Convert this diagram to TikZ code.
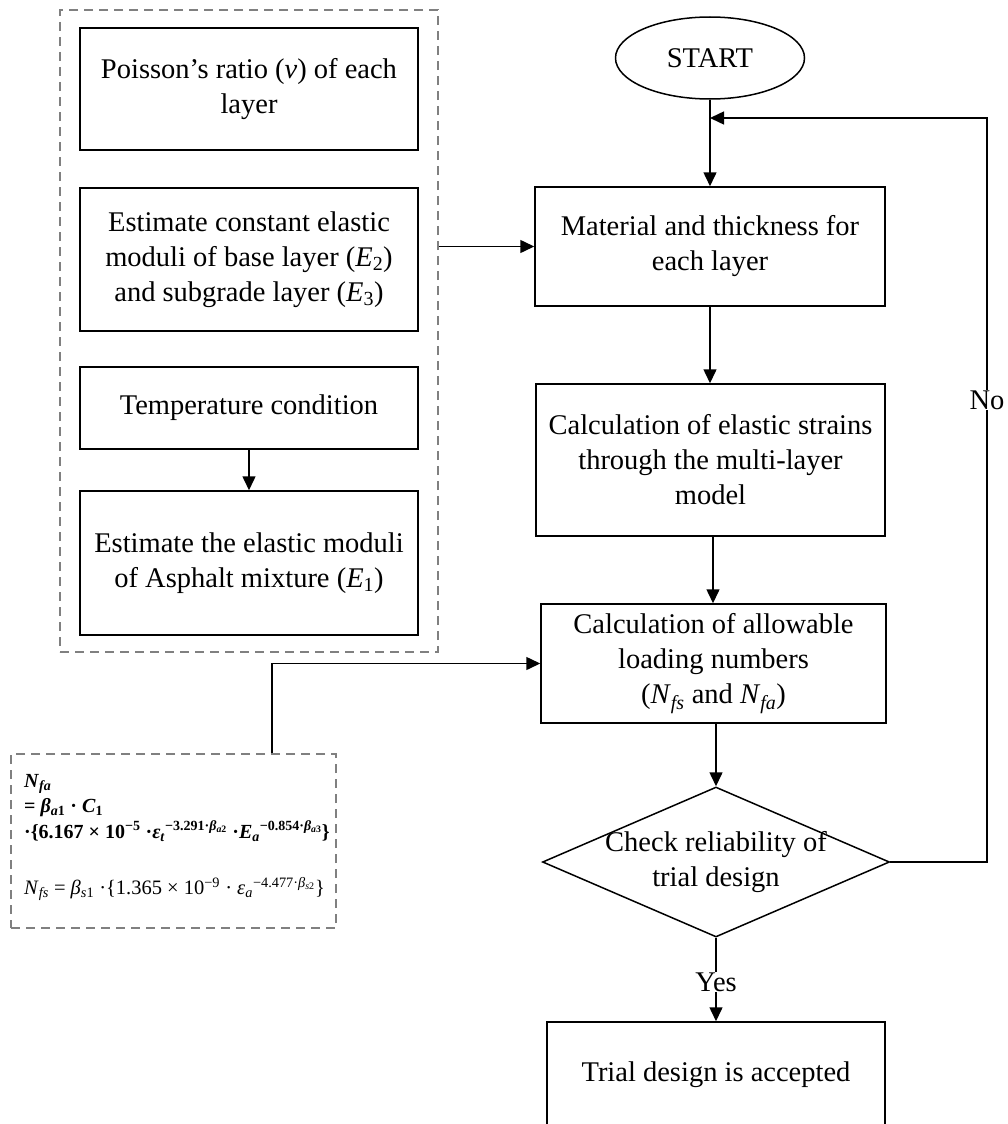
\documentclass[tikz,border=0pt]{standalone}
\usepackage{fontspec}
\setmainfont{Liberation Serif}
\usetikzlibrary{arrows.meta,shapes.geometric,calc}
\begin{document}
\begin{tikzpicture}[x=1pt,y=-1pt,
  txt/.style={font=\fontsize{28.5}{35}\selectfont},
  box/.style={draw,line width=1.5pt,align=center,inner sep=0pt,txt},
  grpbox/.style={draw=black!50,line width=1.4pt,dash pattern=on 9pt off 6pt,inner sep=0pt},
  arr/.style={line width=1.5pt,-{Triangle[length=14pt,width=13pt]}},
  lbl/.style={txt,fill=white,inner sep=1pt}]
\useasboundingbox (0,0) rectangle (1008,1124);
\clip (0,0) rectangle (1008,1124);

% left input group
\node[grpbox,minimum width=378pt,minimum height=642pt] (grp) at (249,331) {};
\node[box,minimum width=338pt,minimum height=122pt] (b1) at (249,89)
  {Poisson’s ratio (\textit{v}) of each\\layer};
\node[box,minimum width=338pt,minimum height=143pt] (b2) at (249,259.5)
  {Estimate constant elastic\\moduli of base layer (\textit{E}\textsubscript{2})\\and subgrade layer (\textit{E}\textsubscript{3})};
\node[box,minimum width=338pt,minimum height=82pt] (b3) at (249,408)
  {Temperature condition};
\node[box,minimum width=338pt,minimum height=144pt] (b4) at (249,563)
  {Estimate the elastic moduli\\of Asphalt mixture (\textit{E}\textsubscript{1})};

% main flow
\node[box,ellipse,minimum width=189pt,minimum height=82pt] (start) at (710,58) {START};
\node[box,minimum width=350pt,minimum height=119pt] (mat) at (710,246.5)
  {Material and thickness for\\each layer};
\node[box,minimum width=349pt,minimum height=152pt] (ela) at (710.5,460)
  {Calculation of elastic strains\\through the multi-layer\\model};
\node[box,minimum width=345pt,minimum height=119pt] (alw) at (713.5,663.5)
  {Calculation of allowable\\loading numbers\\(\textit{N}\textsubscript{\textit{fs}} and \textit{N}\textsubscript{\textit{fa}})};
\node[box,diamond,aspect=2.3133,minimum width=347pt,minimum height=150pt] (dia) at (716,862) {};
\node[txt,align=center,inner sep=0pt] (diat) at (716,862) {Check reliability of\\trial design};
\node[box,minimum width=338pt,minimum height=106pt] (acc) at (716,1075)
  {Trial design is accepted};

% formula group
\node[grpbox,minimum width=325pt,minimum height=174pt] (frm) at (173.5,841) {};
\node[anchor=north west,align=left,inner sep=0pt,font=\fontsize{20}{25.5}\selectfont\bfseries] (fa) at (24,774)
  {\textit{N}\textsubscript{\textit{fa}}\\
   = \textit{β}\textsubscript{\textit{a}1} · \textit{C}\textsubscript{1}\\
   ·\{6.167 × 10\textsuperscript{−5} ·\textit{ε}\textsubscript{\textit{t}}\textsuperscript{−3.291·\textit{β}\textsubscript{\textit{a}2}} ·\textit{E}\textsubscript{\textit{a}}\textsuperscript{−0.854·\textit{β}\textsubscript{\textit{a}3}}\}};
\node[anchor=west,inner sep=0pt,font=\fontsize{20.5}{24}\selectfont] (fs) at (24,889)
  {\textit{N}\textsubscript{\textit{fs}} = \textit{β}\textsubscript{\textit{s}1} ·\{1.365 × 10\textsuperscript{−9} · \textit{ε}\textsubscript{\textit{a}}\textsuperscript{−4.477·\textit{β}\textsubscript{\textit{s}2}}\}};

% connectors
\draw[arr] (b3.south) -- (b4.north);
\draw[arr] (grp.east |- mat.west) -- (mat.west);
\draw[arr] (start.south) -- (mat.north);
\draw[arr] (mat.south) -- (mat.south |- ela.north);
\draw[arr] ([xshift=2.5pt]ela.south) -- ([xshift=2.5pt]ela.south |- alw.north);
\draw[arr] ([xshift=2.5pt]alw.south) -- ([xshift=2.5pt]alw.south |- dia.north);
\coordinate (loopin) at (start.south |- 0,118);
\coordinate (loopr) at (987,118);
\draw[arr] (dia.east) -| (loopr) -- (loopin);
\node[lbl] (no) at (987,400) {No};
\draw[arr] (dia.south) -- (acc.north);
\node[lbl] (yes) at (716,982) {Yes};
\draw[arr] ([xshift=98.5pt]frm.north) |- (alw.west);
\end{tikzpicture}
\end{document}
